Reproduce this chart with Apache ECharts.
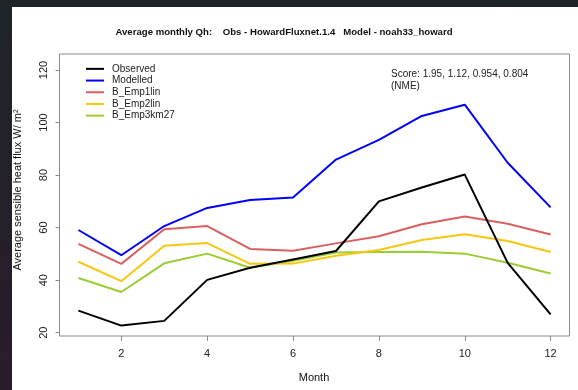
<!DOCTYPE html>
<html>
<head>
<meta charset="utf-8">
<script src="https://cdn.jsdelivr.net/npm/echarts@6/dist/echarts.min.js"></script>
<style>
  html, body { margin: 0; padding: 0; }
  body { width: 578px; height: 390px; background: linear-gradient(180deg, #1d2427 0%, #24202a 50%, #2a1b2b 100%); position: relative; overflow: hidden; }
  #paper { position: absolute; left: 12px; top: 7px; right: 0; bottom: 0; background: #ffffff; }
  #chart { position: absolute; left: 0; top: 0; width: 578px; height: 390px; }
</style>
</head>
<body>
<div id="paper"></div>
<div id="chart"></div>
<script>
// ---- data ----
const months = [1, 2, 3, 4, 5, 6, 7, 8, 9, 10, 11, 12];
const observed   = [28.4, 22.7, 24.5, 40.1, 44.7, 47.9, 51.1, 70.0, 75.3, 80.2, 46.6, 27.0];
const modelled   = [59.1, 49.5, 60.6, 67.5, 70.5, 71.5, 85.9, 93.4, 102.5, 106.8, 84.7, 67.7];
const bEmp1lin   = [53.8, 46.2, 59.4, 60.6, 51.9, 51.2, 54.0, 56.7, 61.3, 64.2, 61.5, 57.4];
const bEmp2lin   = [47.0, 39.6, 53.1, 54.1, 46.2, 46.3, 49.3, 51.5, 55.3, 57.5, 54.9, 50.7];
const bEmp3km27  = [40.8, 35.5, 46.4, 50.1, 44.7, 47.4, 50.5, 50.7, 50.8, 50.1, 46.6, 42.5];
const seriesNames = ['Observed', 'Modelled', 'B_Emp1lin', 'B_Emp2lin', 'B_Emp3km27'];
const xTicks = [2, 4, 6, 8, 10, 12];
const yTicks = [20, 40, 60, 80, 100, 120];
const titleText = 'Average monthly Qh:    Obs - HowardFluxnet.1.4   Model - noah33_howard';
const yTitle = 'Average sensible heat flux W/ m²';
const xTitle = 'Month';
const scoreLines = ['Score: 1.95, 1.12, 0.954, 0.804', '(NME)'];

const seriesValues = [observed, modelled, bEmp1lin, bEmp2lin, bEmp3km27];
const colors = ['#000000', '#0000ff', '#d9605f', '#f5c710', '#9acd32'];
const FONT = '"Liberation Sans", Arial, Helvetica, sans-serif';

const chart = echarts.init(document.getElementById('chart'), null, { renderer: 'canvas' });

const series = seriesNames.map((name, i) => ({
  name: name,
  type: 'line',
  data: months.map((m, j) => [m, seriesValues[i][j]]),
  symbol: 'none',
  lineStyle: { color: colors[i], width: 2 },
  itemStyle: { color: colors[i] },
  color: colors[i],
  animation: false,
  z: 2 + (seriesNames.length - i)
}));

chart.setOption({
  backgroundColor: 'transparent',
  animation: false,
  textStyle: { fontFamily: FONT },
  grid: {
    left: 59.5, right: 8.5, top: 54, bottom: 54,
    show: true, borderColor: '#8a8a8a', borderWidth: 1, backgroundColor: 'transparent'
  },
  legend: {
    data: seriesNames,
    orient: 'vertical',
    left: 86, top: 63,
    icon: 'rect',
    itemWidth: 18, itemHeight: 2,
    itemGap: 0,
    padding: 0,
    textStyle: { fontSize: 10, color: '#222', fontFamily: FONT, lineHeight: 11.7, padding: [0, 0, 0, 3] }
  },
  xAxis: {
    type: 'value',
    min: 0.56, max: 12.44,
    axisLine: { show: false },
    axisTick: { show: true, inside: false, length: 5, lineStyle: { color: '#8a8a8a' }, customValues: xTicks },
    axisLabel: { show: true, margin: 12, fontSize: 11, color: '#222', fontFamily: FONT, customValues: xTicks },
    splitLine: { show: false }
  },
  yAxis: {
    type: 'value',
    min: 18.74, max: 126.1,
    axisLine: { show: false },
    axisTick: { show: true, inside: false, length: 4, lineStyle: { color: '#8a8a8a' }, customValues: yTicks },
    axisLabel: { show: true, rotate: 90, margin: 10, fontSize: 11, color: '#222', fontFamily: FONT, customValues: yTicks },
    splitLine: { show: false }
  },
  graphic: [
    { type: 'text', x: 284, y: 32, style: { text: titleText, font: 'bold 9.6px ' + FONT, fill: '#111', textAlign: 'center', textVerticalAlign: 'middle' } },
    { type: 'text', x: 18, y: 190, rotation: Math.PI / 2, style: { text: yTitle, font: '11px ' + FONT, fill: '#111', textAlign: 'center', textVerticalAlign: 'middle' } },
    { type: 'text', x: 314, y: 378, style: { text: xTitle, font: '11px ' + FONT, fill: '#111', textAlign: 'center', textVerticalAlign: 'middle' } },
    { type: 'text', x: 391, y: 74, style: { text: scoreLines[0], font: '10px ' + FONT, fill: '#222', textAlign: 'left', textVerticalAlign: 'middle' } },
    { type: 'text', x: 391, y: 86, style: { text: scoreLines[1], font: '10px ' + FONT, fill: '#222', textAlign: 'left', textVerticalAlign: 'middle' } }
  ],
  series: series
});
</script>
</body>
</html>
